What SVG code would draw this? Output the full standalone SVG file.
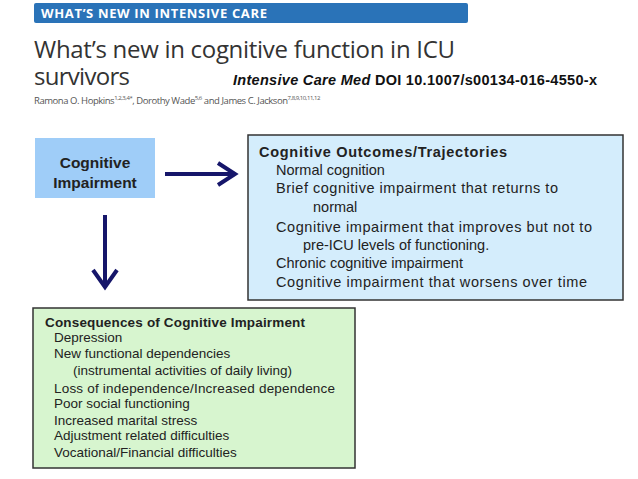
<svg xmlns="http://www.w3.org/2000/svg" width="638" height="479" viewBox="0 0 638 479">
<style>
.hdr{font-family:"Open Sans","Liberation Sans",sans-serif;font-weight:bold;font-size:13px;fill:#fff}
.ttl{font-family:"Open Sans","Liberation Sans",sans-serif;font-size:24px;fill:#333}
.auth{font-family:"Open Sans","Liberation Sans",sans-serif;font-size:9.5px;fill:#555;letter-spacing:-0.45px}
.sup{font-size:6px}
.doi{font-family:"Liberation Sans",Arial,sans-serif;font-size:14.5px;font-weight:bold;fill:#111}
.box{font-family:"Liberation Sans",Arial,sans-serif;fill:#222}
.bt{font-weight:bold}
.arr{stroke:#16166a;stroke-width:4;fill:none}
</style>
<rect width="638" height="479" fill="#fff"/>
<g id="header">
<rect x="34" y="3" width="434" height="20" rx="2" fill="#2a73b8"/>
<text class="hdr" x="41" y="18" textLength="226">WHAT’S NEW IN INTENSIVE CARE</text>
<text class="ttl" x="34" y="58" textLength="421">What’s new in cognitive function in ICU</text>
<text class="ttl" x="34" y="85" textLength="96">survivors</text>
<text class="doi" x="233" y="85" textLength="364"><tspan font-style="italic">Intensive Care Med</tspan> DOI 10.1007/s00134-016-4550-x</text>
<text class="auth" x="34" y="104">Ramona O. Hopkins<tspan class="sup" dy="-4">1,2,3,4*</tspan><tspan dy="4">, Dorothy Wade</tspan><tspan class="sup" dy="-4">5,6</tspan><tspan dy="4"> and James C. Jackson</tspan><tspan class="sup" dy="-4">7,8,9,10,11,12</tspan></text>
</g>
<g id="impairment">
<rect x="35" y="138" width="120" height="60" fill="#9fcdf8"/>
<text class="box bt" x="95" y="168" font-size="15.5" text-anchor="middle" fill="#333">Cognitive</text>
<text class="box bt" x="95" y="188" font-size="15.5" text-anchor="middle" fill="#333">Impairment</text>
</g>
<g id="outcomes">
<rect x="248" y="135" width="375" height="165" fill="#d4edfc" stroke="#333" stroke-width="1.5"/>
<text class="box" font-size="14.5">
<tspan class="bt" x="259" y="157" textLength="248">Cognitive Outcomes/Trajectories</tspan>
<tspan x="276" y="175">Normal cognition</tspan>
<tspan x="276" y="193" textLength="282">Brief cognitive impairment that returns to</tspan>
<tspan x="313" y="212">normal</tspan>
<tspan x="276" y="232" textLength="316">Cognitive impairment that improves but not to</tspan>
<tspan x="303" y="250">pre-ICU levels of functioning.</tspan>
<tspan x="276" y="268">Chronic cognitive impairment</tspan>
<tspan x="276" y="287" textLength="311">Cognitive impairment that worsens over time</tspan>
</text>
</g>
<g id="consequences">
<rect x="33" y="308" width="322" height="160" fill="#d7f5cf" stroke="#333" stroke-width="1.5"/>
<text class="box" font-size="13.5">
<tspan class="bt" x="45" y="327" textLength="260">Consequences of Cognitive Impairment</tspan>
<tspan x="54" y="342">Depression</tspan>
<tspan x="54" y="358">New functional dependencies</tspan>
<tspan x="73" y="375">(instrumental activities of daily living)</tspan>
<tspan x="54" y="393" textLength="281">Loss of independence/Increased dependence</tspan>
<tspan x="54" y="408">Poor social functioning</tspan>
<tspan x="54" y="425">Increased marital stress</tspan>
<tspan x="54" y="440">Adjustment related difficulties</tspan>
<tspan x="54" y="457">Vocational/Financial difficulties</tspan>
</text>
</g>
<g id="connectors">
<path class="arr" d="M165 174 H234 M218 163 L235 174 L218 185"/>
<path class="arr" d="M105 215 V286 M93 270 L105 287 L117 270"/>
</g>
</svg>
